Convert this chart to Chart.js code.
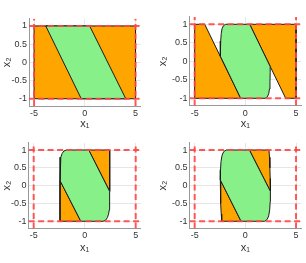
<!DOCTYPE html>
<html>
<head>
<meta charset="utf-8">
<script src="https://cdn.jsdelivr.net/npm/chart.js@4.4.0/dist/chart.umd.min.js"></script>
<style>
  html, body { margin: 0; padding: 0; background: #fff; }
  body { width: 306px; height: 263px; position: relative; overflow: hidden; }
  canvas { position: absolute; }
</style>
</head>
<body>
<canvas id="c1" width="153" height="131" style="left:0;top:0"></canvas>
<canvas id="c2" width="153" height="131" style="left:153px;top:0"></canvas>
<canvas id="c3" width="153" height="132" style="left:0;top:131px"></canvas>
<canvas id="c4" width="153" height="132" style="left:153px;top:131px"></canvas>
<script>
// axes
const xTicks = [-5, 0, 5];
const yTicks = [-1, -0.5, 0, 0.5, 1];
const xRange = [-5.5, 5.5];
const yRange = [-1.2, 1.2];
const boxX = [-5, 5];
const boxY = [-1, 1];

// plot 1
const p1Orange = [[-5, 1], [5, 1], [5, -1], [-5, -1]];
const p1Green = [[-3.85, 1], [0.48, 1], [4.04, -1], [-0.35, -1]];

// plot 2
const p2OrangeL = [[-5, 1], [-4.01, 1], [-0.46, -1], [-5, -1]];
const p2OrangeR = [[0.43, 1], [5, 1], [5, -1], [3.98, -1]];
const p2Green = [[0.43, 1], [-1.95, 1], [-2.17, 0.96], [-2.3, 0.88], [-2.38, 0.75], [-2.43, 0.55], [-2.46, 0.35], [-2.48, 0.14],
                 [-0.46, -1], [1.95, -1], [2.17, -0.96], [2.3, -0.88], [2.38, -0.75], [2.43, -0.55], [2.45, -0.3], [2.45, -0.14]];

// plot 3
const p3OrangeL = [[-2.42, 0.14], [-2.42, -1], [-0.38, -1]];
const p3OrangeR = [[0.4, 1], [2.45, 1], [2.45, -0.16]];
const p3Green = [[0.4, 1], [-1.8, 1], [-2.05, 0.97], [-2.22, 0.9], [-2.34, 0.8], [-2.41, 0.68], [-2.42, 0.55], [-2.42, 0.14],
                 [-0.38, -1], [1.8, -1], [2.05, -0.97], [2.22, -0.9], [2.34, -0.8], [2.41, -0.68], [2.44, -0.55], [2.45, -0.16]];

// plot 4
const p4OrangeL = [[-2.47, 0.16], [-2.45, -0.2], [-2.42, -0.5], [-2.38, -0.8], [-2.33, -1], [-0.42, -1]];
const p4OrangeR = [[0.4, 1], [2.33, 1], [2.38, 0.8], [2.42, 0.5], [2.45, 0.2], [2.47, -0.16]];
const p4Green = [[0.4, 1], [-1.9, 1], [-2.15, 0.95], [-2.3, 0.85], [-2.4, 0.68], [-2.45, 0.45], [-2.47, 0.16],
                 [-0.42, -1], [1.9, -1], [2.15, -0.95], [2.3, -0.85], [2.4, -0.68], [2.45, -0.45], [2.47, -0.16]];

const ORANGE = '#ffa500';
const GREEN = '#88f088';
const RED = 'rgba(255,70,70,0.9)';
const FONT = 'Liberation Sans, Arial, sans-serif';

function poly(list, color, order) {
  const data = list.map(p => ({x: p[0], y: p[1]}));
  data.push({x: list[0][0], y: list[0][1]});
  return {
    data: data, fill: 'shape', backgroundColor: color,
    borderColor: '#1a1a1a', borderWidth: 1, pointRadius: 0, tension: 0, order: order
  };
}

function dashed(a, b) {
  return {
    data: [{x: a[0], y: a[1]}, {x: b[0], y: b[1]}], fill: false,
    borderColor: RED, borderWidth: 2, borderDash: [6, 3.5], pointRadius: 0, order: 1
  };
}

function makeChart(id, oranges, green, area) {
  const datasets = oranges.map(o => poly(o, ORANGE, 3));
  datasets.push(poly(green, GREEN, 2));
  datasets.push(dashed([xRange[0], boxY[1]], [xRange[1], boxY[1]]));
  datasets.push(dashed([xRange[0], boxY[0]], [xRange[1], boxY[0]]));
  datasets.push(dashed([boxX[0], yRange[0]], [boxX[0], yRange[1]]));
  datasets.push(dashed([boxX[1], yRange[0]], [boxX[1], yRange[1]]));

  new Chart(document.getElementById(id), {
    type: 'line',
    data: { datasets: datasets },
    options: {
      responsive: false,
      animation: false,
      devicePixelRatio: 1,
      layout: { padding: { top: area.top, right: area.right, left: 0, bottom: 0 } },
      plugins: { legend: { display: false }, tooltip: { enabled: false } },
      scales: {
        x: {
          type: 'linear', min: xRange[0], max: xRange[1],
          afterBuildTicks: s => { s.ticks = xTicks.map(v => ({value: v})); },
          afterFit: s => { s.height = area.xh; },
          ticks: { autoSkip: false, maxRotation: 0, padding: 2, color: '#333', font: {family: FONT, size: 9},
                   callback: v => String(v) },
          grid: { color: '#e6e6e6', drawTicks: false },
          border: { color: '#999' },
          title: { display: true, text: 'x₁', color: '#333', font: {family: FONT, size: 11}, padding: {top: 0, bottom: area.xtp} }
        },
        y: {
          type: 'linear', min: yRange[0], max: yRange[1],
          afterBuildTicks: s => { s.ticks = yTicks.map(v => ({value: v})); },
          afterFit: s => { s.width = area.left; },
          ticks: { autoSkip: false, padding: 2, color: '#333', font: {family: FONT, size: 9},
                   callback: v => String(v) },
          grid: { color: '#e6e6e6', drawTicks: false },
          border: { color: '#999' },
          title: { display: true, text: 'x₂', color: '#333', font: {family: FONT, size: 11}, padding: {top: area.ytp, bottom: 0} }
        }
      }
    }
  });
}

makeChart('c1', [p1Orange], p1Green, {left: 29, right: 12.4, top: 18.7, xh: 25, xtp: 0, ytp: 0});
makeChart('c2', [p2OrangeL, p2OrangeR], p2Green, {left: 36.6, right: 4.9, top: 16.9, xh: 25.3, xtp: 0, ytp: 3});
makeChart('c3', [p3OrangeL, p3OrangeR], p3Green, {left: 28.6, right: 12.2, top: 11.9, xh: 34.6, xtp: 8.7, ytp: 0});
makeChart('c4', [p4OrangeL, p4OrangeR], p4Green, {left: 36.6, right: 4.9, top: 11.9, xh: 34.6, xtp: 8.7, ytp: 3});
</script>
</body>
</html>
